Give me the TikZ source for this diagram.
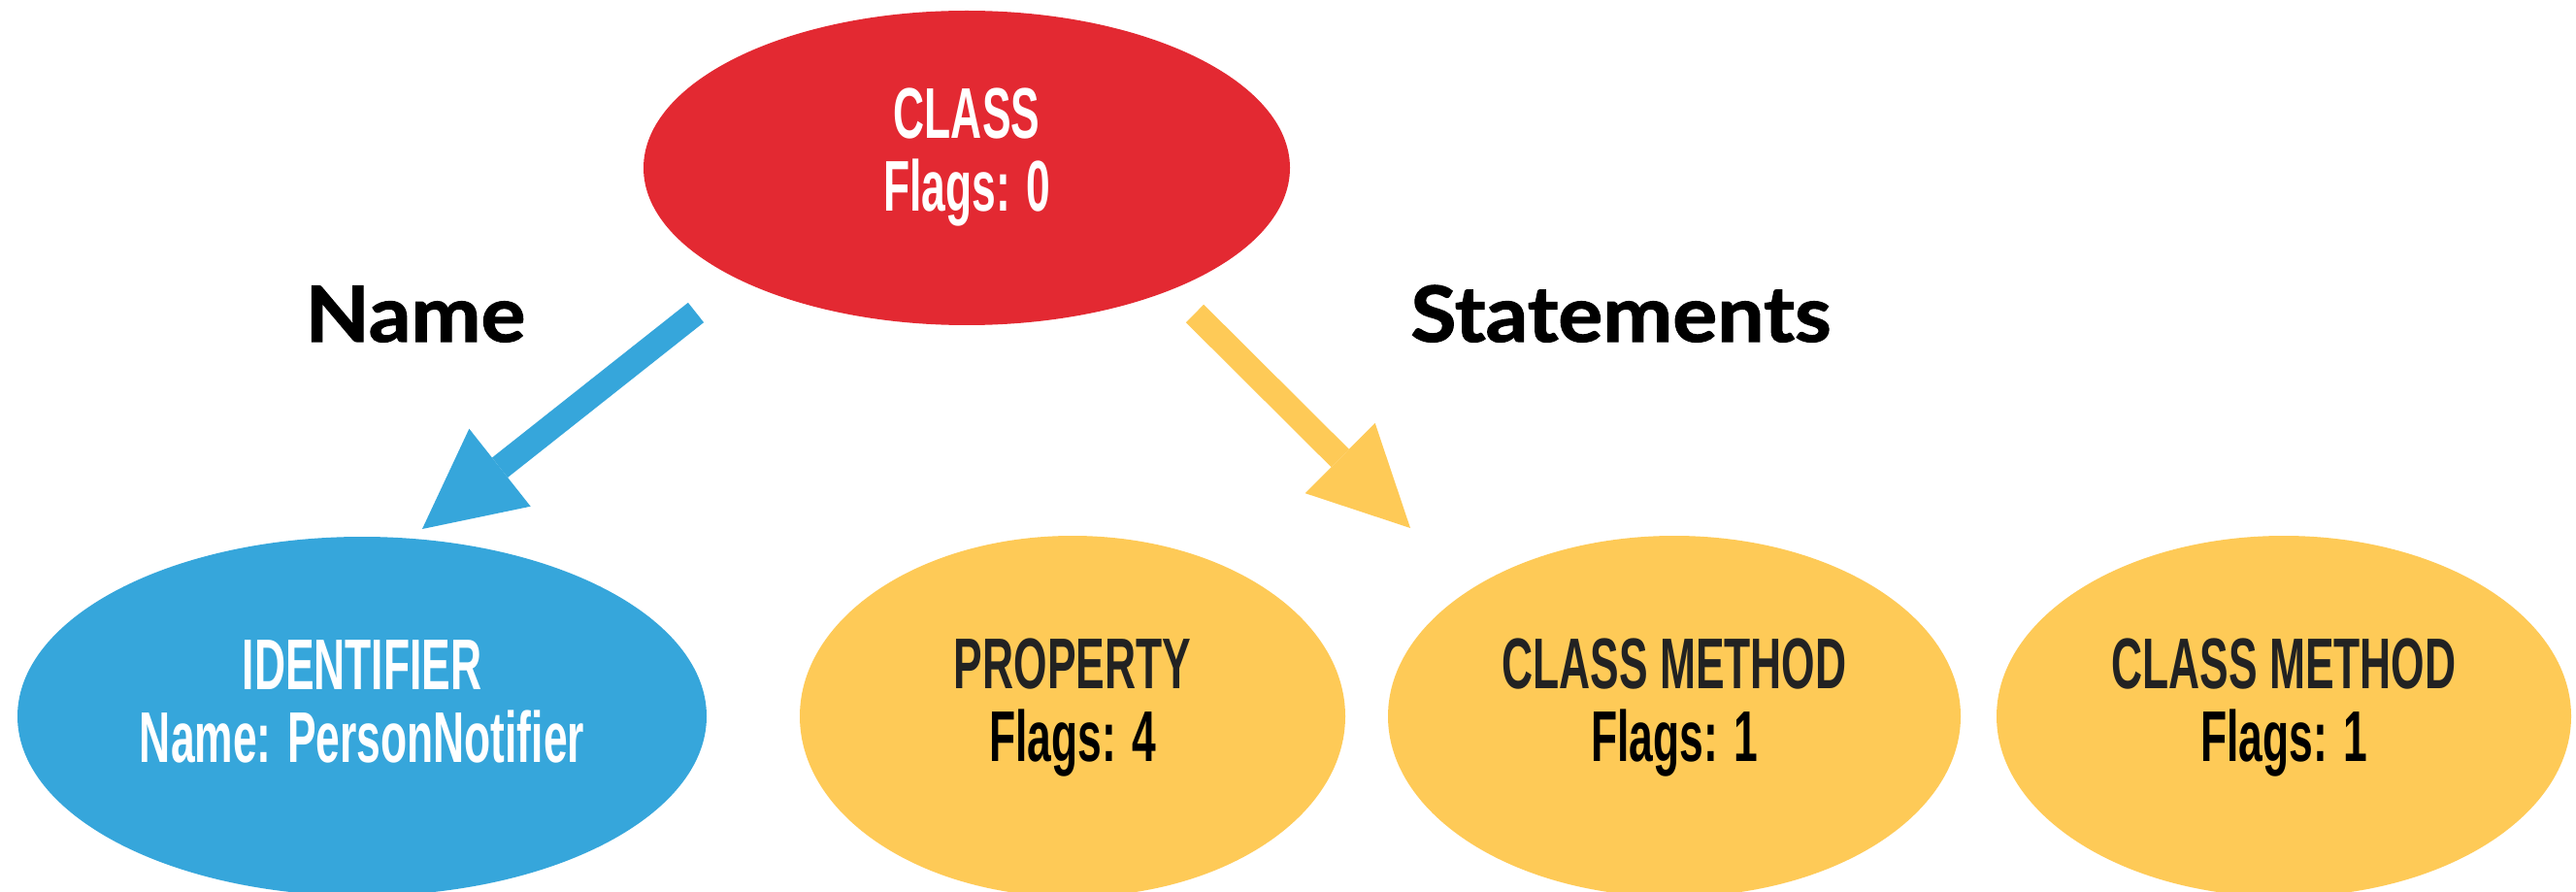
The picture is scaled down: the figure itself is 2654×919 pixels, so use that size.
\documentclass[tikz,border=0pt]{standalone}
\usepackage{fontspec}
\usetikzlibrary{shapes.geometric,arrows.meta}
\newfontfamily\dinfont{Liberation Sans}[FakeStretch=0.6]
\newfontfamily\labfont{Lato}[FakeStretch=1.08,FakeBold=1.5]
\definecolor{cred}{RGB}{227,41,50}
\definecolor{cblue}{RGB}{54,166,219}
\definecolor{cyellow}{RGB}{254,202,87}
\definecolor{cdark}{RGB}{34,34,34}
\tikzset{
  ellip/.style={ellipse, inner sep=0pt, draw=none},
  txt/.style={anchor=base, inner sep=0pt, font=\dinfont\bfseries\fontsize{37}{40}\selectfont},
  lab/.style={anchor=base, inner sep=0pt, font=\labfont\bfseries\fontsize{39.8}{42}\selectfont},
  bigarrow/.style={line width=13pt, line cap=butt, -{Triangle[length=51pt,width=51pt,line width=0pt]}}
}
\begin{document}
\begin{tikzpicture}[x=0.5pt,y=-0.5pt]
\fill[white] (0,0) rectangle (2654,919);
\useasboundingbox (0,0) rectangle (2654,919);
% ellipses
\node[ellip, fill=cred, minimum width=333pt, minimum height=162pt] (class) at (996,173) {};
\node[ellip, fill=cblue, minimum width=355pt, minimum height=185pt] (ident) at (373,738) {};
\node[ellip, fill=cyellow, minimum width=281pt, minimum height=186pt] (prop) at (1105,738) {};
\node[ellip, fill=cyellow, minimum width=295pt, minimum height=186pt] (cmA) at (1725,738) {};
\node[ellip, fill=cyellow, minimum width=296pt, minimum height=186pt] (cmB) at (2353,738) {};
% texts
\node[txt, text=white] (classA) at (996,143) {CLASS};
\node[txt, text=white] (classB) at (996,218) {Flags: 0};
\node[txt, text=white] (identA) at (373,710) {IDENTIFIER};
\node[txt, text=white] (identB) at (373,785) {Name: PersonNotifier};
\node[txt, text=cdark] (propA) at (1105,709) {PROPERTY};
\node[txt, text=black] (propB) at (1105,784) {Flags: 4};
\node[txt, text=cdark] (cmAa) at (1725,709) {CLASS METHOD};
\node[txt, text=black] (cmAb) at (1725,784) {Flags: 1};
\node[txt, text=cdark] (cmBa) at (2353,709) {CLASS METHOD};
\node[txt, text=black] (cmBb) at (2353,784) {Flags: 1};
% edge labels
\node[lab] (lname) at (428,352) {Name};
\node[lab] (lstat) at (1670,352) {Statements};
% arrows
\coordinate (nameS) at ([shift={(-279,149)}]class.center);
\coordinate (nameE) at ([shift={(62,-193)}]ident.center);
\coordinate (statS) at ([shift={(235,150)}]class.center);
\coordinate (statE) at ([shift={(-272,-194)}]cmA.center);
\draw[bigarrow, cblue] (nameS) -- (nameE);
\draw[bigarrow, cyellow] (statS) -- (statE);
\end{tikzpicture}
\end{document}
